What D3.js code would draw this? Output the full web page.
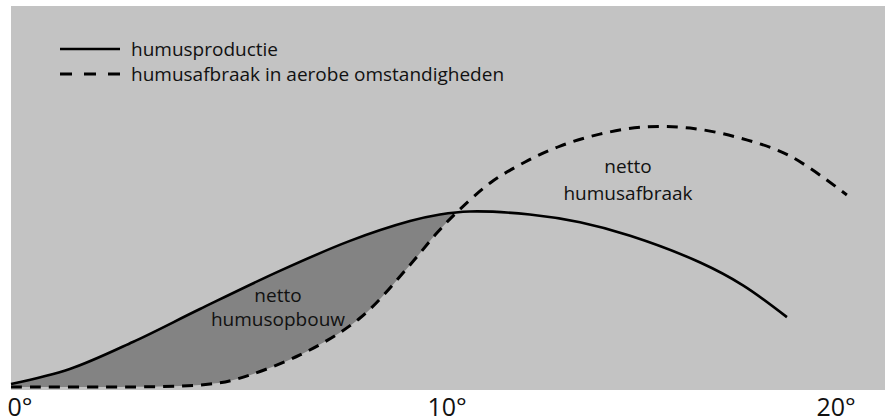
<!DOCTYPE html>
<html>
<head>
<meta charset="utf-8">
<script src="https://cdn.jsdelivr.net/npm/d3@7"></script>
<style>
  html, body { margin: 0; padding: 0; background: #ffffff; }
  svg { display: block; }
  text { font-family: "Open Sans", "DejaVu Sans", sans-serif; fill: #111; }
</style>
</head>
<body>
<svg id="chart" width="885" height="418"></svg>
<script>
// ---- data (temperature in degrees, relative humus amount) ----
const tickValues = [0, 10, 20];
const tickLabels = ["0°", "10°", "20°"];

const productieTemp  = [0, 1.40, 2.90, 4.50, 6.40, 8.07, 9.50, 10.23, 11.00, 12.54, 13.83, 15.12, 16.92, 18.02, 19.15];
const productieValue = [1.0, 6.0, 15.0, 26.0, 38.7, 48.7, 55.3, 57.5, 58.5, 57.5, 54.9, 50.4, 41.5, 33.9, 23.3];

const afbraakTemp  = [0, 2.60, 4.02, 4.74, 5.29, 6.88, 8.31, 9.50, 10.15, 10.67, 11.52, 12.42, 13.32, 14.34, 15.50, 16.66, 17.94, 19.23, 20.69];
const afbraakValue = [0, 0, 0.3, 1.0, 2.3, 10.7, 23.0, 40.7, 51.3, 58.3, 68.0, 75.0, 80.3, 84.3, 86.7, 86.3, 83.0, 77.0, 64.0];

const legendLabels = ["humusproductie", "humusafbraak in aerobe omstandigheden"];
const opbouwLabel  = ["netto", "humusopbouw"];
const afbraakLabel = ["netto", "humusafbraak"];

// ---- layout ----
const svg = d3.select("#chart");
const plot = { left: 11, top: 6, right: 885, bottom: 390 };

const x = d3.scaleLinear().domain([0, 10, 20]).range([11, 431, 820]);
const y = d3.scaleLinear().domain([0, 100]).range([387, 87]);

const productie = productieTemp.map((t, i) => ({ t, v: productieValue[i] }));
const afbraak = afbraakTemp.map((t, i) => ({ t, v: afbraakValue[i] }));

const curveP = d3.curveCatmullRom.alpha(0.5);
const curveA = d3.curveCatmullRom.alpha(0.5);

// background
svg.append("rect")
  .attr("x", plot.left).attr("y", plot.top)
  .attr("width", plot.right - plot.left).attr("height", plot.bottom - plot.top)
  .attr("fill", "#c3c3c3");

// clip: region above the dashed curve
const defs = svg.append("defs");
defs.append("clipPath").attr("id", "aboveAfbraak")
  .append("path")
  .attr("d", d3.area().curve(curveA)
    .x(d => x(d.t)).y0(0).y1(d => y(d.v))(afbraak));

// shaded net build-up region: below production, above breakdown
svg.append("path")
  .attr("clip-path", "url(#aboveAfbraak)")
  .attr("fill", "#838383")
  .attr("d", d3.area().curve(curveP)
    .x(d => x(d.t)).y0(plot.bottom).y1(d => y(d.v))(productie));

svg.append("path")
  .attr("d", d3.line().curve(curveA).x(d => x(d.t)).y(d => y(d.v))(afbraak))
  .attr("fill", "none").attr("stroke", "#000")
  .attr("stroke-width", 3).attr("stroke-dasharray", "11,8");

svg.append("path")
  .attr("d", d3.line().curve(curveP).x(d => x(d.t)).y(d => y(d.v))(productie))
  .attr("fill", "none").attr("stroke", "#000")
  .attr("stroke-width", 2.6);

// legend
const lg = svg.append("g");
lg.append("line").attr("x1", 60).attr("x2", 120).attr("y1", 49).attr("y2", 49)
  .attr("stroke", "#000").attr("stroke-width", 2.6);
lg.append("line").attr("x1", 60).attr("x2", 120).attr("y1", 74).attr("y2", 74)
  .attr("stroke", "#000").attr("stroke-width", 3).attr("stroke-dasharray", "12,12");
lg.selectAll("text.leg").data(legendLabels).join("text")
  .attr("class", "leg")
  .attr("x", 131).attr("y", (d, i) => 56 + i * 25)
  .attr("font-size", 19)
  .text(d => d);

// region annotations
svg.append("g").selectAll("text").data(opbouwLabel).join("text")
  .attr("x", 278).attr("y", (d, i) => 302 + i * 24)
  .attr("text-anchor", "middle").attr("font-size", 19)
  .text(d => d);
svg.append("g").selectAll("text").data(afbraakLabel).join("text")
  .attr("x", 628).attr("y", (d, i) => 173 + i * 27)
  .attr("text-anchor", "middle").attr("font-size", 19)
  .text(d => d);

// x axis labels
const axis = d3.axisBottom(x)
  .tickValues(tickValues)
  .tickFormat((d, i) => tickLabels[i])
  .tickSize(0);
const ax = svg.append("g").attr("transform", `translate(0,${plot.bottom})`).call(axis);
ax.select(".domain").remove();
ax.selectAll("text")
  .attr("y", 26).attr("dy", null).attr("dx", -4)
  .attr("text-anchor", "start")
  .attr("font-size", 25)
  .attr("font-family", "\"Open Sans\", sans-serif")
  .attr("fill", "#111");
</script>
</body>
</html>
